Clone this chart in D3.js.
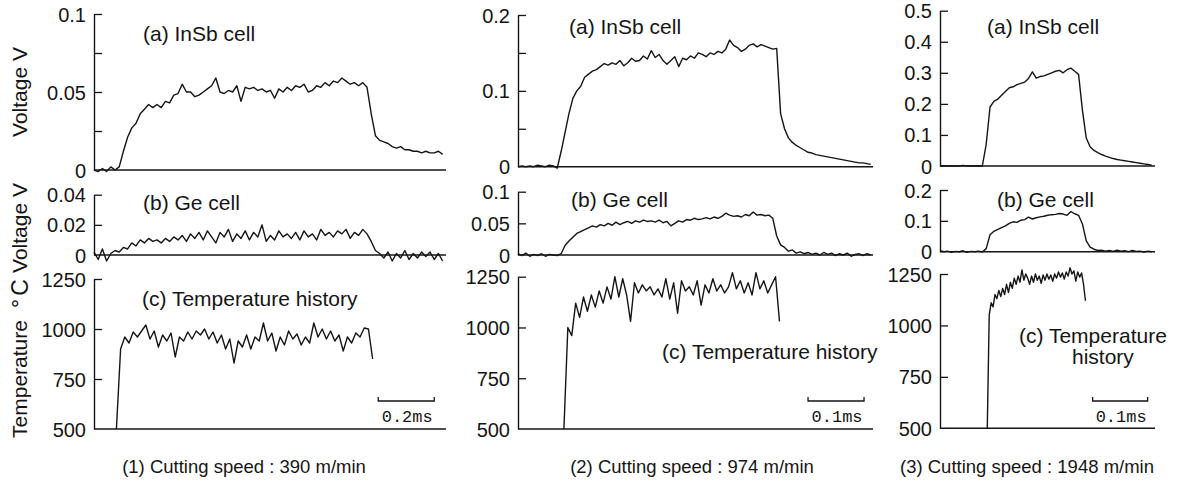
<!DOCTYPE html>
<html><head><meta charset="utf-8">
<script src="https://cdn.jsdelivr.net/npm/d3@7"></script>
<style>
body{margin:0;background:#fff}
svg{display:block}
</style>
</head><body><svg id="c" width="1183" height="490"></svg>
<script>
// ---------------- DATA ----------------
// Column 1: cutting speed 390 m/min (sample step 0.015 ms; temperature starts at 0.08 ms)
const inSb390 = [0.000,-0.001,0.001,-0.001,0.002,0.000,0.002,0.012,0.021,0.027,0.030,0.036,0.039,0.042,0.040,0.042,0.040,0.044,0.043,0.048,0.049,0.055,0.050,0.050,0.047,0.048,0.050,0.052,0.054,0.059,0.050,0.049,0.051,0.050,0.054,0.044,0.053,0.052,0.053,0.051,0.052,0.050,0.051,0.046,0.052,0.050,0.053,0.051,0.054,0.053,0.055,0.050,0.051,0.054,0.053,0.056,0.054,0.057,0.056,0.059,0.057,0.055,0.056,0.054,0.056,0.053,0.036,0.022,0.019,0.018,0.017,0.015,0.014,0.015,0.013,0.013,0.012,0.012,0.011,0.012,0.011,0.011,0.012,0.010];
const ge390 = [0.002,-0.003,0.004,-0.004,0.001,0.003,0.002,0.005,0.004,0.008,0.006,0.010,0.008,0.011,0.009,0.010,0.008,0.011,0.009,0.012,0.010,0.013,0.009,0.014,0.011,0.015,0.010,0.016,0.012,0.008,0.015,0.012,0.017,0.009,0.014,0.011,0.016,0.010,0.015,0.012,0.020,0.009,0.013,0.010,0.016,0.012,0.014,0.011,0.015,0.010,0.016,0.012,0.014,0.010,0.017,0.013,0.015,0.012,0.016,0.014,0.017,0.011,0.015,0.013,0.017,0.014,0.009,0.003,0.001,-0.002,0.002,-0.004,0.001,-0.002,0.003,-0.003,0.001,-0.002,0.002,-0.001,0.002,-0.003,0.001,-0.004];
const temp390 = [500,900,960,930,985,960,990,1020,950,990,910,970,940,980,860,960,940,985,950,990,970,1000,950,985,930,970,900,950,830,940,910,970,900,960,940,1030,940,980,890,960,920,990,950,975,920,960,930,1030,960,1000,950,990,940,970,890,960,930,980,960,1005,1000,850];
// Column 2: cutting speed 974 m/min (sample step 0.007 ms; temperature starts at 0.082 ms)
const inSb974 = [0.000,0.001,0.000,0.001,0.000,0.002,0.001,0.000,0.002,0.001,-0.002,0.020,0.045,0.070,0.090,0.100,0.106,0.118,0.122,0.126,0.128,0.132,0.136,0.134,0.137,0.135,0.140,0.133,0.137,0.143,0.139,0.140,0.146,0.142,0.153,0.144,0.148,0.140,0.135,0.140,0.145,0.132,0.143,0.141,0.146,0.143,0.150,0.148,0.145,0.150,0.148,0.152,0.150,0.155,0.167,0.160,0.157,0.152,0.155,0.160,0.162,0.158,0.161,0.159,0.157,0.155,0.156,0.070,0.050,0.038,0.032,0.028,0.025,0.022,0.019,0.018,0.016,0.015,0.014,0.013,0.012,0.011,0.010,0.009,0.008,0.007,0.006,0.005,0.005,0.004,0.003];
const ge974 = [0.002,-0.001,0.003,-0.002,0.001,-0.001,0.002,-0.002,0.001,0.000,-0.001,0.002,0.015,0.022,0.028,0.034,0.037,0.040,0.043,0.046,0.044,0.048,0.046,0.050,0.047,0.052,0.048,0.051,0.053,0.050,0.054,0.052,0.055,0.053,0.054,0.052,0.055,0.051,0.053,0.046,0.050,0.054,0.052,0.056,0.055,0.058,0.056,0.057,0.059,0.057,0.060,0.058,0.061,0.066,0.063,0.061,0.062,0.060,0.064,0.062,0.068,0.063,0.064,0.062,0.063,0.058,0.030,0.016,0.012,0.006,0.008,0.003,0.005,0.002,0.004,0.001,0.003,0.000,0.004,0.001,0.003,-0.001,0.002,0.000,0.003,-0.002,0.001,0.002,-0.001,0.002,0.000];
const temp974 = [500,1000,960,1120,1050,1150,1080,1160,1100,1180,1120,1200,1140,1250,1150,1240,1160,1030,1220,1170,1210,1180,1200,1160,1190,1150,1240,1140,1220,1070,1230,1180,1200,1160,1230,1110,1210,1170,1240,1180,1210,1170,1200,1270,1190,1230,1170,1220,1160,1270,1190,1230,1170,1210,1250,1030];
// Column 3: cutting speed 1948 m/min (sample step 0.007 ms; temperature step 0.0035 ms from 0.086 ms)
const inSb1948 = [0,0.001,0,0.001,0,0,0.002,0,0.001,0,0.001,0,0.070,0.190,0.208,0.215,0.228,0.240,0.252,0.255,0.262,0.266,0.270,0.282,0.303,0.283,0.288,0.290,0.295,0.300,0.305,0.308,0.300,0.310,0.315,0.305,0.295,0.180,0.090,0.062,0.050,0.043,0.037,0.032,0.028,0.024,0.021,0.019,0.017,0.015,0.013,0.011,0.009,0.007,0.005,0.003];
const ge1948 = [0.003,0,0.002,-0.002,0.001,0,0.003,-0.002,0.001,0,0.002,-0.001,0.010,0.055,0.066,0.072,0.078,0.084,0.092,0.097,0.095,0.102,0.104,0.112,0.106,0.110,0.113,0.115,0.118,0.120,0.121,0.124,0.122,0.118,0.130,0.123,0.118,0.090,0.035,0.015,0.008,0.004,0.005,0.002,0.004,0.001,0.005,0.002,0.003,0,0.004,0.001,0.002,-0.001,0.002,0];
const temp1948 = [500,1050,1110,1090,1150,1130,1170,1140,1180,1150,1200,1160,1210,1180,1230,1200,1240,1210,1270,1220,1250,1230,1200,1240,1210,1250,1220,1240,1205,1245,1220,1250,1225,1245,1215,1250,1230,1260,1235,1255,1225,1260,1240,1280,1250,1265,1215,1260,1235,1255,1200,1120];

// tick values / labels
const ticksInSb390 = [0, 0.05, 0.1],  minorInSb390 = [0.025, 0.05, 0.075, 0.1];
const ticksGe390   = [0, 0.02, 0.04], minorGe390   = [0.02, 0.04];
const ticksInSb974 = [0, 0.1, 0.2],   minorInSb974 = [0.05, 0.1, 0.15, 0.2];
const ticksGe974   = [0, 0.05, 0.1],  minorGe974   = [0.05, 0.1];
const ticksInSb1948= [0, 0.1, 0.2, 0.3, 0.4, 0.5], minorInSb1948 = [0.1, 0.2, 0.3, 0.4, 0.5];
const ticksGe1948  = [0, 0.1, 0.2],   minorGe1948  = [0.1, 0.2];
const ticksTemp    = [500, 750, 1000, 1250], minorTemp = [750, 1000, 1250];

const captions = ["(1) Cutting speed : 390 m/min", "(2) Cutting speed : 974 m/min", "(3) Cutting speed : 1948 m/min"];
const scaleBarLabels = ["0.2ms", "0.1ms", "0.1ms"];
const scaleBarSpans = [[1.015, 1.215], [0.518, 0.618], [0.2776, 0.3776]];
const timeSpans = [1.257, 0.634, 0.391];
const sampleSteps = [0.015, 0.007, 0.007];
const tempSteps = [0.015, 0.007, 0.0035];
const tempStarts = [0.08, 0.082, 0.086];

// ---------------- LAYOUT ----------------
const SANS = '"Liberation Sans",Arial,Helvetica,sans-serif';
const MONO = '"Liberation Mono","DejaVu Sans Mono",monospace';
const ink = "#151515";
const svg = d3.select("#c");
const cols = [
  {x0: 94,  x1: 446,  capX: 244,  barY: 401},
  {x0: 518, x1: 873,  capX: 692,  barY: 401},
  {x0: 940, x1: 1155, capX: 1027, barY: 401}
];
cols.forEach((c, i) => {
  c.x = d3.scaleLinear().domain([0, timeSpans[i]]).range([c.x0, c.x1]);
});

const panels = [
  {c:0, yb:170,   yt:14,    dom:[0,0.1],   lab:ticksInSb390, tk:minorInSb390, data:inSb390, t0:0, dt:sampleSteps[0], name:"(a) InSb cell", lx:143, ly:41},
  {c:0, yb:255,   yt:194.7, dom:[0,0.04],  lab:ticksGe390,   tk:minorGe390,   data:ge390,   t0:0, dt:sampleSteps[0], name:"(b) Ge cell", lx:143, ly:210},
  {c:0, yb:429,   yt:279,   dom:[500,1250],lab:ticksTemp,    tk:minorTemp,    data:temp390, t0:tempStarts[0], dt:tempSteps[0], name:"(c) Temperature history", lx:142, ly:306},
  {c:1, yb:166.7, yt:15,    dom:[0,0.2],   lab:ticksInSb974, tk:minorInSb974, data:inSb974, t0:0, dt:sampleSteps[1], name:"(a) InSb cell", lx:569, ly:34},
  {c:1, yb:255,   yt:191.7, dom:[0,0.1],   lab:ticksGe974,   tk:minorGe974,   data:ge974,   t0:0, dt:sampleSteps[1], name:"(b) Ge cell", lx:571, ly:207},
  {c:1, yb:429,   yt:276.7, dom:[500,1250],lab:ticksTemp,    tk:minorTemp,    data:temp974, t0:tempStarts[1], dt:tempSteps[1], name:"(c) Temperature history", lx:662, ly:359},
  {c:2, yb:166,   yt:10.7,  dom:[0,0.5],   lab:ticksInSb1948,tk:minorInSb1948,data:inSb1948,t0:0, dt:sampleSteps[2], name:"(a) InSb cell", lx:987, ly:34},
  {c:2, yb:251.7, yt:190,   dom:[0,0.2],   lab:ticksGe1948,  tk:minorGe1948,  data:ge1948,  t0:0, dt:sampleSteps[2], name:"(b) Ge cell", lx:997, ly:207},
  {c:2, yb:428.3, yt:274,   dom:[500,1250],lab:ticksTemp,    tk:minorTemp,    data:temp1948,t0:tempStarts[2], dt:tempSteps[2], name:["(c) Temperature","history"], lx:1019, ly:343}
];

panels.forEach(p => {
  const col = cols[p.c];
  const x = col.x;
  const y = d3.scaleLinear().domain(p.dom).range([p.yb, p.yt]);
  const g = svg.append("g");

  // labels axis (left side, no tick marks)
  const ax = g.append("g").attr("transform", `translate(${col.x0},0)`)
    .call(d3.axisLeft(y).tickValues(p.lab).tickSize(0).tickSizeOuter(0).tickPadding(8).tickFormat(d => String(d)));
  ax.select(".domain").attr("stroke", ink).attr("stroke-width", 1.4);
  ax.selectAll("text").style("font-size", "20px").style("font-family", SANS).attr("fill", ink).attr("dy", "0.35em");

  // inward tick marks
  const tk = g.append("g").attr("transform", `translate(${col.x0},0)`)
    .call(d3.axisRight(y).tickValues(p.tk).tickSize(8).tickFormat(""));
  tk.select(".domain").remove();
  tk.selectAll("line").attr("stroke", ink).attr("stroke-width", 1.3);

  // baseline
  g.append("line").attr("x1", x(0)).attr("x2", x(timeSpans[p.c]))
    .attr("y1", y(p.dom[0])).attr("y2", y(p.dom[0]))
    .attr("stroke", ink).attr("stroke-width", 1.4);

  // trace
  const line = d3.line().x((d, i) => x(p.t0 + i * p.dt)).y(d => y(d));
  g.append("path").datum(p.data).attr("d", line)
    .attr("fill", "none").attr("stroke", ink).attr("stroke-width", 1.4).attr("stroke-linejoin", "round");

  // panel label
  const names = Array.isArray(p.name) ? p.name : [p.name];
  names.forEach((n, k) => {
    g.append("text").attr("x", k === 0 ? p.lx : p.lx + 53).attr("y", p.ly + k * 21)
      .style("font-family", SANS).style("font-size", "21px").attr("fill", ink).text(n);
  });
});

// y-axis titles (left column)
function vtitle(txt, cx, cy, fs, ls) {
  svg.append("text").attr("transform", `translate(${cx},${cy}) rotate(-90)`)
    .attr("text-anchor", "middle").style("font-family", SANS).style("font-size", fs + "px")
    .style("letter-spacing", (ls || 0) + "px").attr("fill", ink).text(txt);
}
vtitle("Voltage  V", 27, 92, 21);
vtitle("Voltage  V", 27, 228, 21);
vtitle("Temperature", 27, 379, 21);
vtitle("°C", 28, 292, 23, 3);

// scale bars and captions
cols.forEach((c, i) => {
  const s = scaleBarSpans[i];
  const xa = c.x(s[0]), xb = c.x(s[1]), yy = c.barY;
  svg.append("path").attr("d", `M${xa},${yy-4}V${yy}H${xb}V${yy-4}`)
    .attr("fill", "none").attr("stroke", ink).attr("stroke-width", 1.3);
  svg.append("text").attr("x", (xa + xb) / 2 + 1).attr("y", yy + 21).attr("text-anchor", "middle")
    .style("font-family", MONO).style("font-size", "17px").attr("fill", ink).text(scaleBarLabels[i]);
  svg.append("text").attr("x", c.capX).attr("y", 473).attr("text-anchor", "middle")
    .style("font-family", SANS).style("font-size", "18.5px").attr("fill", ink).text(captions[i]);
});
</script>
</body></html>
